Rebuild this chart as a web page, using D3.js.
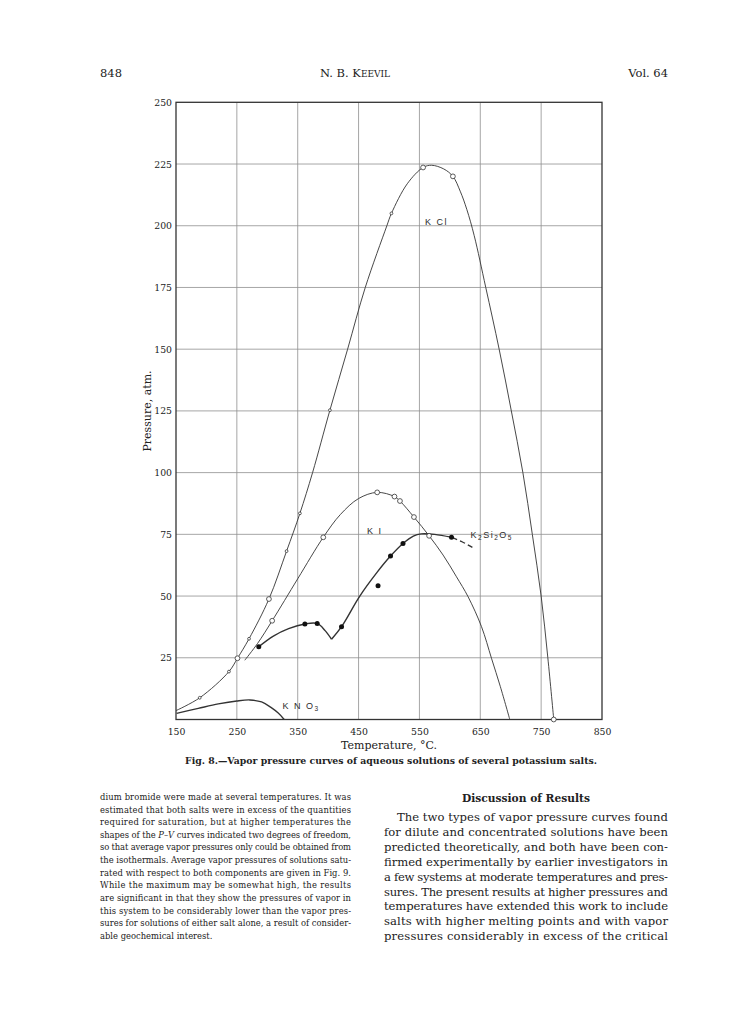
<!DOCTYPE html>
<html>
<head>
<meta charset="utf-8">
<script src="https://cdn.jsdelivr.net/npm/d3@7"></script>
<style>
  body { margin: 0; background: #fff; }
  svg { display: block; }
</style>
</head>
<body>
<svg width="741" height="1019"></svg>
<script>
// curves: [temperature °C, pressure atm]
const kclCurve = [[150, 3.6], [189, 8.8], [237, 19.4], [251, 24.8], [270, 32.7], [302.7, 48.8],
  [331.7, 68.2], [353.6, 83.5], [374.4, 100], [402.9, 125.3], [432, 150], [461, 175],
  [496.5, 200], [504, 205], [530, 217], [556, 223.6], [570, 224.5], [590, 223], [605, 220],
  [617, 214], [628, 206.5], [640, 196], [659, 175], [681, 150], [701, 125], [720, 100], [735.5, 75],
  [750, 50], [761, 25], [770.7, 0]];
const kclDots = [[189, 8.8], [237, 19.4], [270, 32.7], [331.7, 68.2], [353.6, 83.5], [402.9, 125.3], [504, 205]];
const kclCircles = [[251, 24.8], [302.7, 48.8], [556, 223.6], [605, 220], [770.7, 0]];

const kiCurve = [[263, 24], [284, 30.8], [308, 40], [350, 57], [392, 73.8], [420, 83], [450, 89.5],
  [480.6, 92], [509, 90.3], [518, 88.5], [541, 82], [565.9, 74.4], [588.9, 66.6], [610.9, 57.8],
  [630, 49.7], [652, 37.6], [668.4, 24.8], [683, 13.3], [698.5, 0]];
const kiCircles = [[308, 40], [392, 73.8], [480.6, 92], [509, 90.3], [518, 88.5], [541, 82], [565.9, 74.4]];

const silA = [[286, 29.5], [310, 33.8], [335, 36.8], [361.8, 38.7], [382, 38.9], [395, 36], [405.6, 32.5]];
const silB = [[405.6, 32.5], [422, 37.6], [452, 50], [480, 59.5], [502.5, 66.2], [523, 71.3],
  [540, 74.3], [553, 75.2], [575, 75], [602.7, 73.8]];
const silDash = [[602.7, 73.8], [620, 72], [637, 69.7]];
const silDots = [[286, 29.5], [361.8, 38.7], [382, 38.9], [422, 37.6], [482, 54.2], [502.5, 66.2], [523, 71.3], [602.7, 73.8]];

const kno3Curve = [[151, 2.5], [186.6, 4.5], [219.5, 6.3], [250, 7.5], [271.5, 7.9], [290.7, 7.1],
  [306, 4.9], [318, 2.6], [327.8, 0]];

const xTicks = [150, 250, 350, 450, 550, 650, 750, 850];
const yTicks = [25, 50, 75, 100, 125, 150, 175, 200, 225, 250];

const leftText = [
  "dium bromide were made at several temperatures.   It was",
  "estimated that both salts were in excess of the quantities",
  "required for saturation, but at higher temperatures the",
  null, // P–V line, built with italics below
  "so that average vapor pressures only could be obtained from",
  "the isothermals.   Average vapor pressures of solutions satu-",
  "rated with respect to both components are given in Fig. 9.",
  "While the maximum may be somewhat high, the results",
  "are significant in that they show the pressures of vapor in",
  "this system to be considerably lower than the vapor pres-",
  "sures for solutions of either salt alone, a result of consider-",
  "able geochemical interest."
];
const rightText = [
  "The two types of vapor pressure curves found",
  "for dilute and concentrated solutions have been",
  "predicted theoretically, and both have been con-",
  "firmed experimentally by earlier investigators in",
  "a few systems at moderate temperatures and pres-",
  "sures.  The present results at higher pressures and",
  "temperatures have extended this work to include",
  "salts with higher melting points and with vapor",
  "pressures considerably in excess of the critical"
];

const svg = d3.select("svg");
const serif = "'DejaVu Serif', 'Liberation Serif', serif";
const sans = "'Liberation Sans', Arial, sans-serif";

const x = d3.scaleLinear().domain([150, 850]).range([176, 602]);
const y = d3.scaleLinear().domain([0, 250]).range([719.5, 102.3]);

// page header
svg.append("text").attr("x", 100).attr("y", 77).attr("font-family", serif).attr("font-size", 11.5).attr("fill", "#222").text("848");
svg.append("text").attr("x", 355).attr("y", 77).attr("text-anchor", "middle").attr("font-family", serif)
  .attr("font-size", 11.5).attr("fill", "#222")
  .html('N. B. K<tspan font-size="9">EEVIL</tspan>');
svg.append("text").attr("x", 668).attr("y", 77).attr("text-anchor", "end").attr("font-family", serif)
  .attr("font-size", 11.5).attr("fill", "#222").text("Vol. 64");

// grid
const grid = svg.append("g").attr("stroke", "#8f8f8f").attr("stroke-width", 0.8);
grid.selectAll(".vx").data(xTicks.slice(1, -1)).join("line")
  .attr("x1", d => x(d)).attr("x2", d => x(d)).attr("y1", y(250)).attr("y2", y(0));
grid.selectAll(".hy").data(yTicks.slice(0, -1)).join("line")
  .attr("x1", x(150)).attr("x2", x(850)).attr("y1", d => y(d)).attr("y2", d => y(d));

// frame
svg.append("rect").attr("x", x(150)).attr("y", y(250)).attr("width", x(850) - x(150)).attr("height", y(0) - y(250))
  .attr("fill", "none").attr("stroke", "#333").attr("stroke-width", 1.3);

// axes (labels only)
const xAxis = svg.append("g").attr("transform", `translate(0,${y(0)})`)
  .call(d3.axisBottom(x).tickValues(xTicks).tickSize(0).tickPadding(9));
const yAxis = svg.append("g").attr("transform", `translate(${x(150)},0)`)
  .call(d3.axisLeft(y).tickValues(yTicks).tickSize(0).tickPadding(4));
[xAxis, yAxis].forEach(a => {
  a.select(".domain").remove();
  a.selectAll("text").attr("font-family", serif).attr("font-size", 9.3).attr("fill", "#222");
});

svg.append("text").attr("x", 389).attr("y", 749).attr("text-anchor", "middle").attr("font-family", serif)
  .attr("font-size", 11).attr("fill", "#222").text("Temperature, °C.");
svg.append("text").attr("transform", "translate(151,411) rotate(-90)").attr("text-anchor", "middle")
  .attr("font-family", serif).attr("font-size", 11).attr("fill", "#222").text("Pressure, atm.");
svg.append("text").attr("x", 391).attr("y", 763.5).attr("text-anchor", "middle").attr("font-family", serif)
  .attr("font-size", 9.4).attr("font-weight", "bold").attr("fill", "#222")
  .attr("textLength", 412).attr("lengthAdjust", "spacingAndGlyphs")
  .text("Fig. 8.—Vapor pressure curves of aqueous solutions of several potassium salts.");

// curves
const line = d3.line().x(d => x(d[0])).y(d => y(d[1])).curve(d3.curveCatmullRom.alpha(0.5));
const curves = svg.append("g").attr("fill", "none").attr("stroke", "#333");
curves.append("path").datum(kclCurve).attr("d", line).attr("stroke-width", 0.9);
curves.append("path").datum(kiCurve).attr("d", line).attr("stroke-width", 0.9);
curves.append("path").datum(silA).attr("d", line).attr("stroke-width", 1.4);
curves.append("path").datum(silB).attr("d", line).attr("stroke-width", 1.4);
curves.append("path").datum(silDash).attr("d", line).attr("stroke-width", 1.3).attr("stroke-dasharray", "6,3");
curves.append("path").datum(kno3Curve).attr("d", line).attr("stroke-width", 1.3);

// markers
svg.append("g").selectAll("circle").data(kclDots).join("circle")
  .attr("cx", d => x(d[0])).attr("cy", d => y(d[1])).attr("r", 1.4)
  .attr("fill", "#fff").attr("stroke", "#333").attr("stroke-width", 0.8);
svg.append("g").selectAll("circle").data(kclCircles.concat(kiCircles)).join("circle")
  .attr("cx", d => x(d[0])).attr("cy", d => y(d[1])).attr("r", 2.4)
  .attr("fill", "#fff").attr("stroke", "#333").attr("stroke-width", 0.8);
svg.append("g").selectAll("circle").data(silDots).join("circle")
  .attr("cx", d => x(d[0])).attr("cy", d => y(d[1])).attr("r", 2.5).attr("fill", "#111");

// curve labels (group opacity keeps the small text grey, no colour fringes)
const labels = svg.append("g").attr("opacity", 0.99);
const lab = (t, cx, cy) => labels.append("text").attr("x", x(cx)).attr("y", y(cy)).attr("font-family", sans)
  .attr("font-size", 9).attr("fill", "#2a2a2a").attr("letter-spacing", 1.5).html(t);
lab("K Cl", 559, 200.5);
lab("K I", 464, 75);
lab('K<tspan font-size="6.5" dy="2">2</tspan><tspan dy="-2">Si</tspan><tspan font-size="6.5" dy="2">2</tspan><tspan dy="-2">O</tspan><tspan font-size="6.5" dy="2">5</tspan>', 634, 73.5);
lab('K N O<tspan font-size="6.5" dy="2">3</tspan>', 325, 4.3);

// body text, left column
const left = svg.append("g").attr("font-family", serif).attr("font-size", 8.4).attr("fill", "#222");
leftText.forEach((t, i) => {
  const el = left.append("text").attr("x", 100).attr("y", 800 + i * 12.62);
  if (t === null) el.html('shapes of the <tspan font-style="italic">P–V</tspan> curves indicated two degrees of freedom,');
  else el.text(t);
  if (i < leftText.length - 1) el.attr("textLength", 251).attr("lengthAdjust", "spacing");
});

// body text, right column
svg.append("text").attr("x", 526).attr("y", 801.5).attr("text-anchor", "middle").attr("font-family", serif)
  .attr("font-size", 11).attr("font-weight", "bold").attr("fill", "#222")
  .attr("textLength", 128).attr("lengthAdjust", "spacingAndGlyphs").text("Discussion of Results");
const right = svg.append("g").attr("font-family", serif).attr("font-size", 11.6).attr("fill", "#222");
rightText.forEach((t, i) => {
  const x0 = i === 0 ? 397 : 384;
  right.append("text").attr("x", x0).attr("y", 821 + i * 14.9).text(t)
    .attr("textLength", 668 - x0).attr("lengthAdjust", "spacing");
});
</script>
</body>
</html>
